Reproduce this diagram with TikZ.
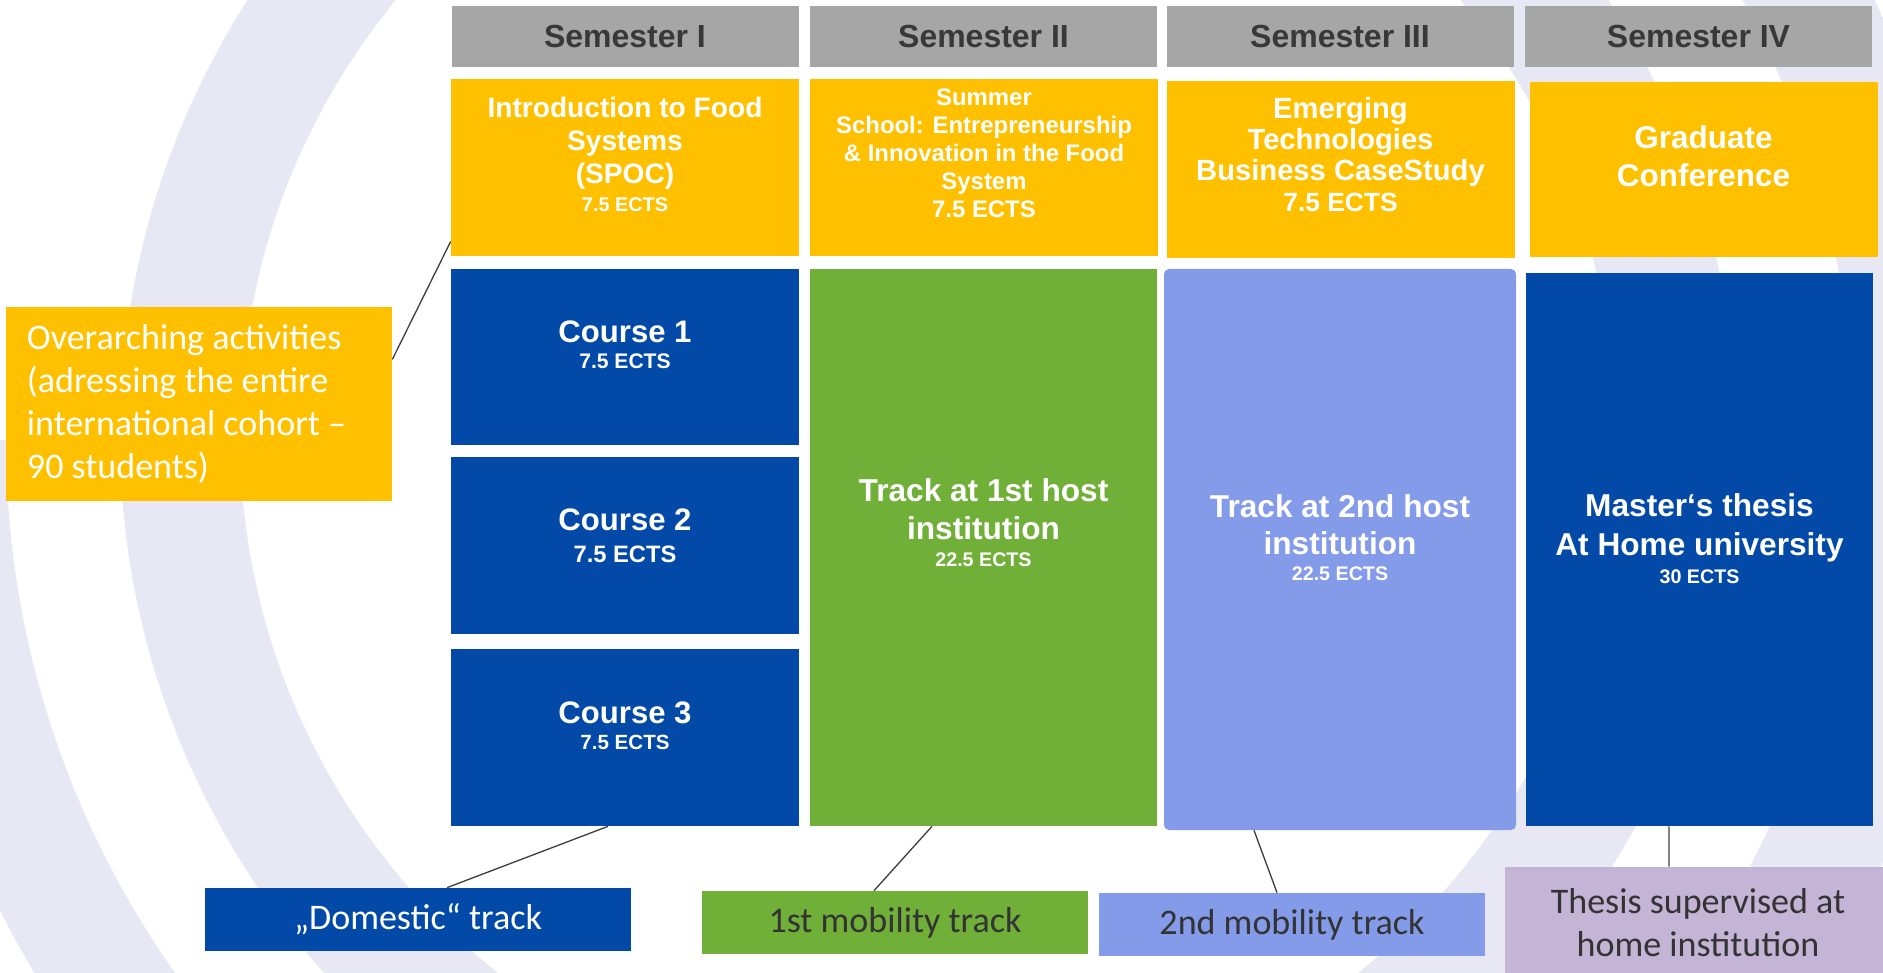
\documentclass[tikz,border=0pt]{standalone}
\usepackage{fontspec}
\setmainfont{Liberation Sans}
\newfontfamily\calib{Carlito}
\newcommand\fsz[2]{\fontsize{#1}{#2}\selectfont}
\definecolor{semgray}{HTML}{A6A6A6}
\definecolor{semtext}{HTML}{383838}
\definecolor{actyellow}{HTML}{FFC000}
\definecolor{homeblue}{HTML}{0349A8}
\definecolor{mobgreen}{HTML}{70AF38}
\definecolor{mobblue}{HTML}{839BE8}
\definecolor{supervlilac}{HTML}{C4B4D6}
\definecolor{ringlav}{HTML}{E7E8F4}
\definecolor{lblgray}{HTML}{333333}
\definecolor{linkgray}{HTML}{3F3F3F}

\begin{document}
\begin{tikzpicture}[x=0.2mm,y=-0.2mm,
  cell/.style 2 args={rectangle,inner sep=0pt,minimum width=#1*0.2mm,minimum height=#2*0.2mm},
  semhead/.style={cell={347}{61},fill=semgray,text=semtext,font=\bfseries\fsz{18.2}{22}},
  actbox/.style={cell={348}{177},fill=actyellow},
  celltext/.style={anchor=north,align=center,inner sep=0pt,text=white},
  tag/.style={font=\calib\fsz{20.5}{24.5}},
  link/.style={draw=linkgray,line width=0.75pt}]

  % ---- Background rings ---------------------------------------
  \useasboundingbox (0,0) rectangle (1883,973);
  \fill[white] (0,0) rectangle (1883,973);
  \begin{scope}
    \clip (0,0) rectangle (1883,973);
    \draw[ringlav,line width=24mm] (928,436) circle (149.6mm);
    \draw[ringlav,line width=23.6mm] (930,440) ++(180:196.6mm)
      arc[start angle=180,end angle=400,radius=196.6mm];
  \end{scope}

  % ---- Semester headers ---------------------------------------
  \node[semhead] (sem1) at (625,36.5)   {Semester I};
  \node[semhead] (sem2) at (983.5,36.5) {Semester II};
  \node[semhead] (sem3) at (1340,36.5)  {Semester III};
  \node[semhead] (sem4) at (1698.5,36.5) {Semester IV};

  % ---- Overarching activities (yellow row) ---------------------
  \node[actbox] (act1) at (625,167.5) {};
  \node[celltext,font=\bfseries\fsz{16}{18.6}] (act1txt) at (625,97)
    {Introduction to Food\\Systems\\(SPOC)\\[-2.5pt]\fsz{11.3}{13}7.5 ECTS};

  \node[actbox] (act2) at (984,167.5) {};
  \node[celltext,font=\bfseries\fsz{13.6}{16}] (act2txt) at (984,88)
    {Summer\\School: Entrepreneurship\\\& Innovation in the Food\\System\\7.5 ECTS};

  \node[actbox] (act3) at (1340.5,169.5) {};
  \node[celltext,font=\bfseries\fsz{16.6}{17.6}] (act3txt) at (1340.5,97)
    {Emerging\\Technologies\\Business CaseStudy\\\fsz{15}{17.6}7.5 ECTS};

  \node[actbox,minimum height=35mm] (act4) at (1703.5,169.5) {};
  \node[celltext,font=\bfseries\fsz{17.9}{21.6}] (act4txt) at (1703.5,125)
    {Graduate\\Conference};

  % ---- Semester I: domestic courses ----------------------------
  \node[cell={348}{176},fill=homeblue] (course1) at (625,357) {};
  \node[celltext,font=\bfseries\fsz{17.7}{13.1}] (course1txt) at (625,320)
    {Course 1\\[2pt]\fsz{12}{13.1}7.5 ECTS};

  \node[cell={348}{177},fill=homeblue] (course2) at (625,545.5) {};
  \node[celltext,font=\bfseries\fsz{17.7}{18.2}] (course2txt) at (625,508)
    {Course 2\\\fsz{13.5}{18.2}7.5 ECTS};

  \node[cell={348}{177},fill=homeblue] (course3) at (625,737.5) {};
  \node[celltext,font=\bfseries\fsz{17.7}{14.8}] (course3txt) at (625,701)
    {Course 3\\\fsz{11.7}{14.8}7.5 ECTS};

  % ---- Semesters II--IV: tracks ---------------------------------
  \node[cell={347}{557},fill=mobgreen] (track1) at (983.5,547.5) {};
  \node[celltext,font=\bfseries\fsz{18}{21.6}] (track1txt) at (983.5,478)
    {Track at 1st host\\institution\\[-6.1pt]\fsz{11.2}{13}22.5 ECTS};

  \node[cell={352}{561},fill=mobblue,rounded corners=1mm] (track2) at (1340,549.5) {};
  \node[celltext,font=\bfseries\fsz{18}{21}] (track2txt) at (1340,494)
    {Track at 2nd host\\institution\\[-6.1pt]\fsz{11.2}{13.7}22.5 ECTS};

  \node[cell={347}{553},fill=homeblue] (master) at (1699.5,549.5) {};
  \node[celltext,font=\bfseries\fsz{18}{22.5}] (mastertxt) at (1699.5,493)
    {Master‘s thesis\\At Home university\\[-7pt]\fsz{11.2}{14.2}30 ECTS};

  % ---- Legend tags ----------------------------------------------
  \node[cell={386}{194},fill=actyellow,tag,text=white,align=flush left,
        text width=68.8mm,inner xsep=4.2mm] (over) at (199,404)
    {Overarching activities\\(adressing the entire\\international cohort –\\90 students)};
  \node[cell={426}{63},fill=homeblue,tag,text=white] (dom) at (418,919.5)
    {„Domestic“ track};
  \node[cell={386}{63},fill=mobgreen,tag,text=lblgray] (mob1) at (895,922.5)
    {1st mobility track};
  \node[cell={386}{63},fill=mobblue,tag,text=lblgray] (mob2) at (1292,924.5)
    {2nd mobility track};
  \node[cell={386}{112},fill=supervlilac,tag,text=lblgray,align=center] (superv) at (1698,923)
    {Thesis supervised at\\home institution};

  % ---- Links ------------------------------------------------------
  \draw[link] (over.13) -- (act1.203);
  \draw[link] ([xshift=5.8mm]dom.north) -- ([xshift=-3.4mm]course3.south);
  \draw[link] ([xshift=-4.2mm]mob1.north) -- ([xshift=-10.3mm]track1.south);
  \draw[link] ([xshift=-3mm]mob2.north) -- ([xshift=-17.2mm]track2.south);
  \draw[link] ([xshift=-6.1mm]master.south) -- ([xshift=-5.8mm]superv.north);

\end{tikzpicture}
\end{document}
